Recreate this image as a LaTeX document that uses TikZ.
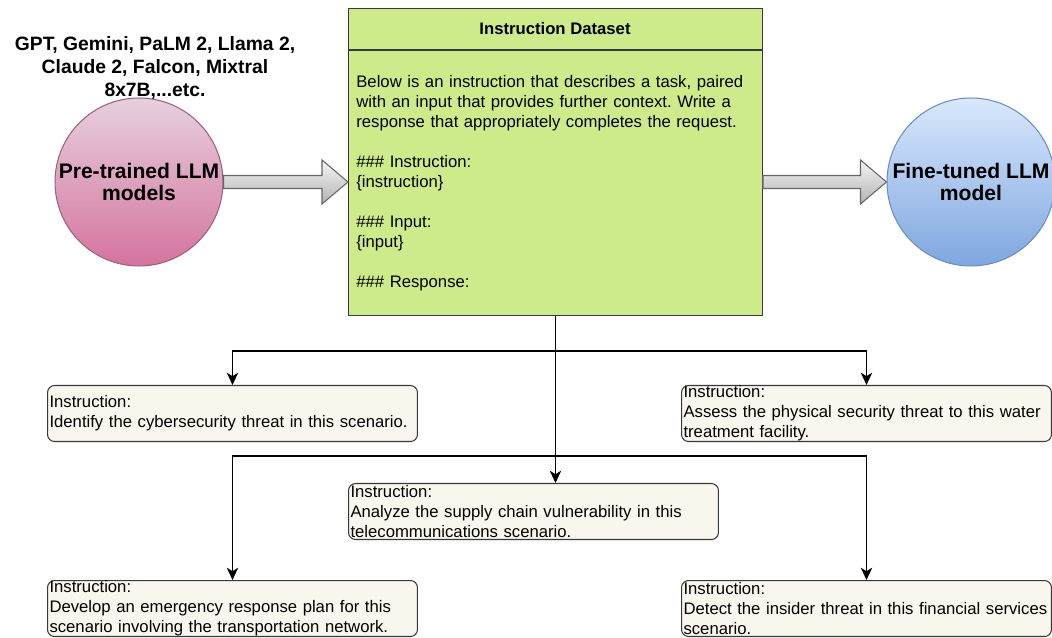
\documentclass[tikz,border=0pt]{standalone}
\usepackage{fontspec}
\setmainfont{Liberation Sans}
\usetikzlibrary{arrows.meta,calc}
\frenchspacing

\definecolor{boxline}{HTML}{36393D}
\definecolor{datafill}{HTML}{CDEB8B}
\definecolor{instrfill}{HTML}{F9F7ED}
\definecolor{pinktop}{HTML}{E6D0DE}
\definecolor{pinkbottom}{HTML}{D5739D}
\definecolor{pinkline}{HTML}{996185}
\definecolor{bluetop}{HTML}{DAE8FC}
\definecolor{bluebottom}{HTML}{7EA6E0}
\definecolor{blueline}{HTML}{6C8EBF}
\definecolor{arrowtop}{HTML}{F5F5F5}
\definecolor{arrowbottom}{HTML}{B3B3B3}
\definecolor{arrowline}{HTML}{666666}

\tikzset{
  instr/.style={draw=boxline, line width=0.6pt, fill=instrfill, rounded corners=4pt,
    anchor=north west, align=left, text width=7.32cm, inner xsep=0.04cm, inner ysep=0pt,
    minimum height=1.12cm, font=\fontsize{9.5}{11.4}\selectfont},
  model/.style={circle, minimum size=3.36cm, inner sep=0, line width=0.6pt, align=center,
    font=\bfseries\fontsize{12}{13}\selectfont},
  link/.style={line width=0.75pt, -{Stealth[length=7pt,width=6.5pt,inset=2pt]}},
  fatarrow/.style={draw=arrowline, line width=0.6pt, top color=arrowtop, bottom color=arrowbottom},
}

% block arrow from #1 to #2 (same height)
\newcommand\blockarrow[2]{%
  \path[fatarrow] let \p1=(#1), \p2=(#2) in
    (\x1,{\y1+0.13cm}) -- ({\x2-0.52cm},{\y1+0.13cm}) -- ({\x2-0.52cm},{\y1+0.44cm})
    -- (\x2,\y1) -- ({\x2-0.52cm},{\y1-0.44cm}) -- ({\x2-0.52cm},{\y1-0.13cm})
    -- (\x1,{\y1-0.13cm}) -- cycle;}

\begin{document}
\begin{tikzpicture}[x=0.02cm, y=-0.02cm]
\useasboundingbox (0,0) rectangle (1052,638);

% models
\node[anchor=north, inner sep=0, align=center, font=\bfseries\fontsize{11}{13}\selectfont] (names) at (155,36)
  {GPT, Gemini, PaLM 2, Llama 2,\\Claude 2, Falcon, Mixtral\\8x7B,...etc.};
\node[model, draw=pinkline, top color=pinktop, bottom color=pinkbottom] (pre) at (139,182) {Pre-trained LLM\\models};
\node[model, draw=blueline, top color=bluetop, bottom color=bluebottom] (fine) at (971,182) {Fine-tuned LLM\\model};

% dataset
\node[draw=boxline, line width=0.6pt, fill=datafill, anchor=north west, inner sep=0,
  minimum width=8.28cm, minimum height=6.14cm] (dataset) at (348,8) {};
\draw[boxline, line width=0.6pt] (dataset.west |- 0,50) -- (dataset.east |- 0,50);
\node[font=\bfseries\fontsize{9.5}{11.4}\selectfont] (title) at (555,29) {Instruction Dataset};
\node[anchor=north west, inner sep=0, align=left, text width=8cm, font=\fontsize{9.5}{11.4}\selectfont] (prompt) at (356,75)
  {Below is an instruction that describes a task, paired\\
   with an input that provides further context. Write a\\
   response that appropriately completes the request.\\[11.4pt]
   \#\#\# Instruction:\\
   \{instruction\}\\[11.4pt]
   \#\#\# Input:\\
   \{input\}\\[11.4pt]
   \#\#\# Response:};

\blockarrow{pre.east}{pre.east -| dataset.west}
\blockarrow{dataset.east |- fine.west}{fine.west}

% instructions
\node[instr] (cyber) at (47,385) {Instruction:\\Identify the cybersecurity threat in this scenario.};
\node[instr] (phys) at (681,385) {Instruction:\\Assess the physical security threat to this water\\treatment facility.};
\node[instr] (supply) at (348,483) {Instruction:\\Analyze the supply chain vulnerability in this\\telecommunications scenario.};
\node[instr] (emerg) at (47,580) {Instruction:\\Develop an emergency response plan for this\\scenario involving the transportation network.};
\node[instr] (insider) at (681,580) {Instruction:\\Detect the insider threat in this financial services\\scenario.};

\draw[link] (dataset.south) -- ++(0,35) -| (cyber.north);
\draw[link] (dataset.south) -- ++(0,35) -| (phys.north);
\draw[link] (dataset.south) -- (dataset.south |- supply.north);
\draw[link] (dataset.south) -- ++(0,140) -| (emerg.north);
\draw[link] (dataset.south) -- ++(0,140) -| (insider.north);
\end{tikzpicture}
\end{document}
